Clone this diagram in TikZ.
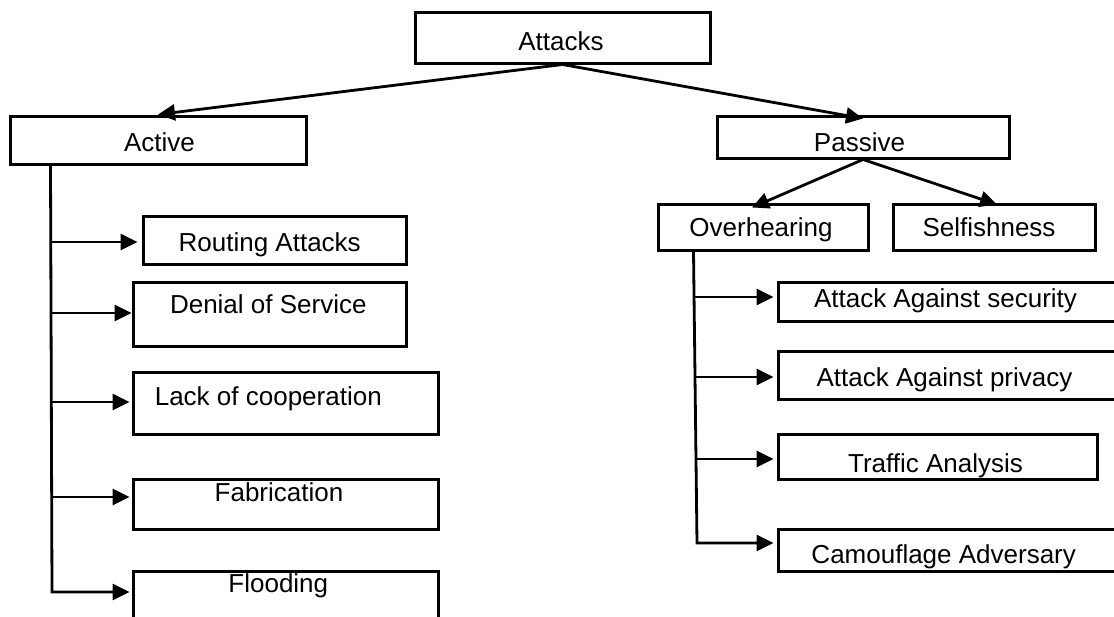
\documentclass[tikz,border=0pt]{standalone}
\usepackage{fontspec}
\setmainfont{Liberation Sans}
\usetikzlibrary{arrows.meta,calc}

\tikzset{
  box/.style={draw, line width=3pt, rectangle, inner sep=0pt},
  lbl/.style={anchor=base, inner sep=0pt, font=\fontsize{26}{30}\selectfont},
  wire/.style={line width=2.8pt, line join=miter},
  arr/.style={wire, -{Triangle[length=17pt,width=16pt]}}
}

\begin{document}
\begin{tikzpicture}[x=1pt,y=-1pt]
  \path[use as bounding box] (0,0) rectangle (1114,616);
  \clip (0,0) rectangle (1114,616);

  % boxes
  \node[box, minimum width=295pt, minimum height=51pt] (attacks) at (562.5,37.5) {};
  \node[box, minimum width=296pt, minimum height=48pt] (active)  at (158,140) {};
  \node[box, minimum width=292pt, minimum height=42pt] (passive) at (863,137) {};
  \node[box, minimum width=210pt, minimum height=46pt] (over)    at (763,227) {};
  \node[box, minimum width=202pt, minimum height=46pt] (selfish) at (994,227) {};

  \node[box, minimum width=263pt, minimum height=48pt] (routing) at (274.5,240) {};
  \node[box, minimum width=273pt, minimum height=64pt] (dos)     at (269.5,314) {};
  \node[box, minimum width=305pt, minimum height=62pt] (lack)    at (285.5,403) {};
  \node[box, minimum width=305pt, minimum height=50pt] (fab)     at (285.5,504) {};
  \node[box, minimum width=305pt, minimum height=59pt] (flood)   at (285.5,600.5) {};

  \node[box, minimum width=352pt, minimum height=39pt] (sec)     at (954,301.5) {};
  \node[box, minimum width=352pt, minimum height=48pt] (priv)    at (954,375) {};
  \node[box, minimum width=319pt, minimum height=45pt] (traffic) at (937.5,456.5) {};
  \node[box, minimum width=352pt, minimum height=42pt] (camo)    at (954,550) {};

  % labels
  \node[lbl] (attacks-t) at (561,50.7)   {Attacks};
  \node[lbl] (active-t)  at (159.5,151.7) {Active};
  \node[lbl] (passive-t) at (859.5,151.7) {Passive};
  \node[lbl] (over-t)    at (761,236.7)  {Overhearing};
  \node[lbl] (selfish-t) at (989,236.7)  {Selfishness};
  \node[lbl] (routing-t) at (269.7,251.7) {Routing Attacks};
  \node[lbl] (dos-t)     at (268.3,313.3) {Denial of Service};
  \node[lbl] (lack-t)    at (268.3,405.7) {Lack of cooperation};
  \node[lbl] (fab-t)     at (279,501)    {Fabrication};
  \node[lbl] (flood-t)   at (278.3,592.7) {Flooding};
  \node[lbl] (sec-t)     at (945.5,307.7) {Attack Against security};
  \node[lbl] (priv-t)    at (944.5,386.7) {Attack Against privacy};
  \node[lbl] (traffic-t) at (935.5,472.3) {Traffic Analysis};
  \node[lbl] (camo-t)    at (943.7,563.3) {Camouflage Adversary};

  % top level
  \draw[arr] (attacks.south) -- (active.north);
  \draw[arr] (attacks.south) -- ([yshift=-4pt]passive.north);
  \draw[arr] (passive.south) -- ([xshift=-11pt,yshift=-5pt]over.north);
  \draw[arr] (passive.south) -- ([xshift=3pt,yshift=-2pt]selfish.north);

  % active branch
  \coordinate (ltop) at ($(active.south west)+(42,0)$);
  \coordinate (b1) at (52,242);
  \coordinate (b2) at (52,313);
  \coordinate (b3) at (52,402);
  \coordinate (b4) at (52,497);
  \coordinate (b5) at (52,592);
  \draw[arr] (ltop) -- (b5) -- ([xshift=-2pt]flood.west |- b5);
  \draw[arr] (b1) -- ([xshift=-4pt]routing.west |- b1);
  \draw[arr] (b2) -- (dos.west |- b2);
  \draw[arr] (b3) -- ([xshift=-2pt]lack.west |- b3);
  \draw[arr] (b4) -- ([xshift=-2pt]fab.west |- b4);

  % overhearing branch
  \coordinate (rtop) at ($(over.south west)+(37,0)$);
  \coordinate (c1) at (695,297);
  \coordinate (c2) at (695,377);
  \coordinate (c3) at (696,459);
  \coordinate (c4) at (697,543);
  \draw[arr] (rtop) -- (c4) -- ([xshift=-3pt]camo.west |- c4);
  \draw[arr] (c1) -- ([xshift=-3pt]sec.west |- c1);
  \draw[arr] (c2) -- ([xshift=-3pt]priv.west |- c2);
  \draw[arr] (c3) -- ([xshift=-3pt]traffic.west |- c3);
\end{tikzpicture}
\end{document}
